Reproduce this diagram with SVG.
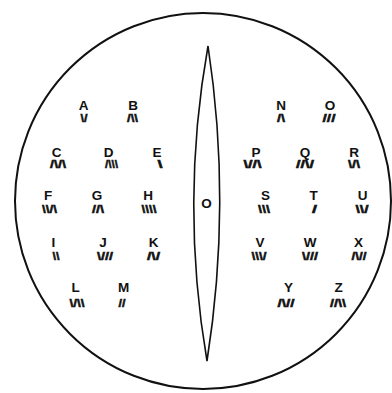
<svg xmlns="http://www.w3.org/2000/svg" width="392" height="393" viewBox="0 0 392 393">
<style>
.bg{fill:#fff}
.ln{fill:none;stroke:#111;stroke-width:2}
.lens{fill:none;stroke:#111;stroke-width:1.6;stroke-linejoin:miter}
.l{font-family:"Liberation Sans",Arial,sans-serif;font-weight:bold;font-size:13.5px;fill:#111;text-anchor:middle}
.c{font-family:"Liberation Sans",Arial,sans-serif;font-weight:bold;font-size:10px;fill:#111;stroke:#111;stroke-width:0.45}
</style>
<rect class="bg" x="0" y="0" width="392" height="393"/>
<g id="dial">
<circle class="ln" cx="203" cy="201" r="188"/>
<path class="lens" d="M208,46 Q180,203 207,361 Q232,203 208,46 Z"/>
<text class="l" x="206.5" y="208">O</text>
</g>
<g id="connectors"></g>
<g id="A"><text class="l" x="83.5" y="109.5">A</text><text class="c" x="80.5" y="122" textLength="7" lengthAdjust="spacingAndGlyphs">\/</text></g>
<g id="B"><text class="l" x="133" y="109.5">B</text><text class="c" x="127" y="122" textLength="11" lengthAdjust="spacingAndGlyphs">/\\</text></g>
<g id="N"><text class="l" x="281" y="109.5">N</text><text class="c" x="277" y="122" textLength="8" lengthAdjust="spacingAndGlyphs">/\</text></g>
<g id="O"><text class="l" x="330" y="109.5">O</text><text class="c" x="322.5" y="122" textLength="13" lengthAdjust="spacingAndGlyphs">///</text></g>
<g id="C"><text class="l" x="56.5" y="156.7">C</text><text class="c" x="50" y="167.7" textLength="16" lengthAdjust="spacingAndGlyphs">/\/\</text></g>
<g id="D"><text class="l" x="108.5" y="156.7">D</text><text class="c" x="105" y="167.7" textLength="13" lengthAdjust="spacingAndGlyphs">/\\\</text></g>
<g id="E"><text class="l" x="157" y="156.7">E</text><text class="c" x="157.5" y="167.7" textLength="5" lengthAdjust="spacingAndGlyphs">\</text></g>
<g id="P"><text class="l" x="256" y="156.7">P</text><text class="c" x="243.5" y="167.7" textLength="18" lengthAdjust="spacingAndGlyphs">\//\</text></g>
<g id="Q"><text class="l" x="305" y="156.7">Q</text><text class="c" x="296" y="167.7" textLength="18" lengthAdjust="spacingAndGlyphs">//\/</text></g>
<g id="R"><text class="l" x="354" y="156.7">R</text><text class="c" x="348" y="167.7" textLength="12" lengthAdjust="spacingAndGlyphs">\/\</text></g>
<g id="F"><text class="l" x="48" y="200">F</text><text class="c" x="42" y="213.3" textLength="15" lengthAdjust="spacingAndGlyphs">\\/\</text></g>
<g id="G"><text class="l" x="97" y="200">G</text><text class="c" x="92" y="213.3" textLength="12" lengthAdjust="spacingAndGlyphs">//\</text></g>
<g id="H"><text class="l" x="148" y="200">H</text><text class="c" x="141.5" y="213.3" textLength="15" lengthAdjust="spacingAndGlyphs">\\\\</text></g>
<g id="S"><text class="l" x="265.5" y="200">S</text><text class="c" x="258" y="213.3" textLength="12" lengthAdjust="spacingAndGlyphs">\\\</text></g>
<g id="T"><text class="l" x="313.5" y="200">T</text><text class="c" x="312" y="213.3" textLength="5" lengthAdjust="spacingAndGlyphs">/</text></g>
<g id="U"><text class="l" x="362.5" y="200">U</text><text class="c" x="355.5" y="213.3" textLength="13" lengthAdjust="spacingAndGlyphs">\\/</text></g>
<g id="I"><text class="l" x="53.5" y="246.7">I</text><text class="c" x="52.5" y="260" textLength="7" lengthAdjust="spacingAndGlyphs">\\</text></g>
<g id="J"><text class="l" x="103" y="246.7">J</text><text class="c" x="97" y="260" textLength="16" lengthAdjust="spacingAndGlyphs">\///</text></g>
<g id="K"><text class="l" x="153.5" y="246.7">K</text><text class="c" x="147" y="260" textLength="13" lengthAdjust="spacingAndGlyphs">/\/</text></g>
<g id="V"><text class="l" x="260" y="246.7">V</text><text class="c" x="251.5" y="260" textLength="15" lengthAdjust="spacingAndGlyphs">\\\/</text></g>
<g id="W"><text class="l" x="310" y="246.7">W</text><text class="c" x="302" y="260" textLength="16" lengthAdjust="spacingAndGlyphs">\///</text></g>
<g id="X"><text class="l" x="358.5" y="246.7">X</text><text class="c" x="351.5" y="260" textLength="15" lengthAdjust="spacingAndGlyphs">/\//</text></g>
<g id="L"><text class="l" x="75.5" y="292">L</text><text class="c" x="69.5" y="307" textLength="15" lengthAdjust="spacingAndGlyphs">\/\\</text></g>
<g id="M"><text class="l" x="123.5" y="292">M</text><text class="c" x="118.5" y="307" textLength="7" lengthAdjust="spacingAndGlyphs">//</text></g>
<g id="Y"><text class="l" x="288.5" y="292">Y</text><text class="c" x="277.5" y="307" textLength="17" lengthAdjust="spacingAndGlyphs">/\//</text></g>
<g id="Z"><text class="l" x="338.5" y="292">Z</text><text class="c" x="330" y="307" textLength="16" lengthAdjust="spacingAndGlyphs">//\\</text></g>
</svg>
